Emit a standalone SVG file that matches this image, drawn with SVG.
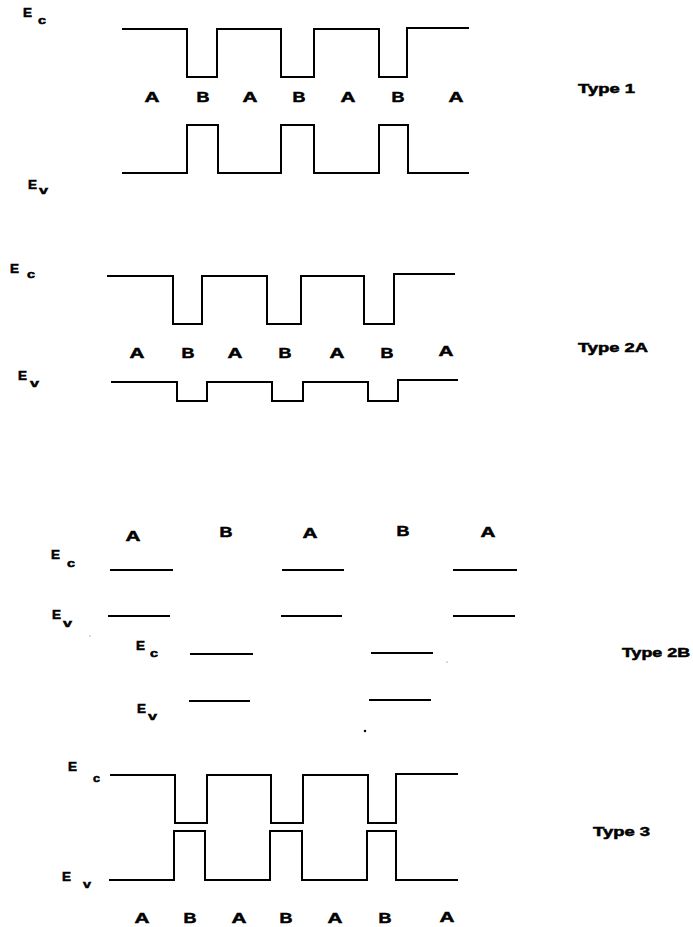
<svg xmlns="http://www.w3.org/2000/svg" width="693" height="927" viewBox="0 0 693 927">
<style>
.band{fill:none;stroke:#000;stroke-width:2;stroke-linejoin:miter;stroke-linecap:square}
.lvl{fill:none;stroke:#000;stroke-width:2}
text{font-family:"Liberation Sans",Arial,sans-serif;font-weight:bold;fill:#000;stroke:#000;stroke-width:0.5}
.ab{font-size:14px;text-anchor:middle}
.e{font-size:12px}
.s{font-size:11px}
.ty{font-size:12.5px}
</style>
<rect width="693" height="927" fill="#fff"/>

<g id="type1">
  <g id="type1-bands">
    <path class="band" d="M123,29 H187 V77 H217 V29 H281 V77 H314 V29 H379 V77 H407 V28 H468"/>
    <path class="band" d="M123,173 H187 V125 H218 V173 H281 V125 H314 V173 H379 V125 H408 V173 H468"/>
  </g>
  <text class="e" x="23" y="17" textLength="9" lengthAdjust="spacingAndGlyphs">E</text>
  <text class="s" x="38" y="24" textLength="8" lengthAdjust="spacingAndGlyphs">c</text>
  <text class="e" x="28" y="189" textLength="9" lengthAdjust="spacingAndGlyphs">E</text>
  <text class="s" x="39" y="194" textLength="9" lengthAdjust="spacingAndGlyphs">v</text>
  <g class="labels">
    <text class="ab" x="152" y="102" textLength="15" lengthAdjust="spacingAndGlyphs">A</text>
    <text class="ab" x="203" y="102" textLength="13" lengthAdjust="spacingAndGlyphs">B</text>
    <text class="ab" x="250" y="102" textLength="15" lengthAdjust="spacingAndGlyphs">A</text>
    <text class="ab" x="299" y="102" textLength="13" lengthAdjust="spacingAndGlyphs">B</text>
    <text class="ab" x="348" y="102" textLength="15" lengthAdjust="spacingAndGlyphs">A</text>
    <text class="ab" x="398" y="102" textLength="13" lengthAdjust="spacingAndGlyphs">B</text>
    <text class="ab" x="456" y="102" textLength="15" lengthAdjust="spacingAndGlyphs">A</text>
  </g>
  <text class="ty" x="578" y="93" textLength="57" lengthAdjust="spacingAndGlyphs">Type 1</text>
</g>

<g id="type2a">
  <g id="type2a-bands">
    <path class="band" d="M108,276 H173 V324 H202 V276 H267 V324 H301 V276 H364 V324 H394 V274 H454"/>
    <path class="band" d="M112,382 H177 V401 H207 V382 H272 V401 H303 V382 H368 V401 H398 V380 H457"/>
  </g>
  <text class="e" x="10" y="273" textLength="9" lengthAdjust="spacingAndGlyphs">E</text>
  <text class="s" x="27" y="278" textLength="8" lengthAdjust="spacingAndGlyphs">c</text>
  <text class="e" x="18" y="380" textLength="9" lengthAdjust="spacingAndGlyphs">E</text>
  <text class="s" x="30" y="387" textLength="9" lengthAdjust="spacingAndGlyphs">v</text>
  <g class="labels">
    <text class="ab" x="137" y="358" textLength="15" lengthAdjust="spacingAndGlyphs">A</text>
    <text class="ab" x="188" y="358" textLength="13" lengthAdjust="spacingAndGlyphs">B</text>
    <text class="ab" x="235" y="358" textLength="15" lengthAdjust="spacingAndGlyphs">A</text>
    <text class="ab" x="285" y="358" textLength="13" lengthAdjust="spacingAndGlyphs">B</text>
    <text class="ab" x="337" y="358" textLength="15" lengthAdjust="spacingAndGlyphs">A</text>
    <text class="ab" x="387" y="358" textLength="13" lengthAdjust="spacingAndGlyphs">B</text>
    <text class="ab" x="446" y="356" textLength="15" lengthAdjust="spacingAndGlyphs">A</text>
  </g>
  <text class="ty" x="578" y="352" textLength="70" lengthAdjust="spacingAndGlyphs">Type 2A</text>
</g>

<g id="type2b">
  <g class="labels">
    <text class="ab" x="133" y="541" textLength="15" lengthAdjust="spacingAndGlyphs">A</text>
    <text class="ab" x="226" y="537" textLength="13" lengthAdjust="spacingAndGlyphs">B</text>
    <text class="ab" x="310" y="538" textLength="15" lengthAdjust="spacingAndGlyphs">A</text>
    <text class="ab" x="403" y="536" textLength="13" lengthAdjust="spacingAndGlyphs">B</text>
    <text class="ab" x="488" y="537" textLength="15" lengthAdjust="spacingAndGlyphs">A</text>
  </g>
  <g id="type2b-levels">
    <line class="lvl" x1="110" y1="570" x2="173" y2="570"/>
    <line class="lvl" x1="108" y1="616" x2="170" y2="616"/>
    <line class="lvl" x1="282" y1="570" x2="344" y2="570"/>
    <line class="lvl" x1="281" y1="616" x2="342" y2="616"/>
    <line class="lvl" x1="453" y1="570" x2="517" y2="570"/>
    <line class="lvl" x1="453" y1="616" x2="515" y2="616"/>
    <line class="lvl" x1="190" y1="654" x2="253" y2="654"/>
    <line class="lvl" x1="189" y1="701" x2="250" y2="701"/>
    <line class="lvl" x1="371" y1="653" x2="433" y2="653"/>
    <line class="lvl" x1="369" y1="700" x2="431" y2="700"/>
  </g>
  <text class="e" x="51" y="559" textLength="9" lengthAdjust="spacingAndGlyphs">E</text>
  <text class="s" x="67" y="567" textLength="8" lengthAdjust="spacingAndGlyphs">c</text>
  <text class="e" x="52" y="619" textLength="9" lengthAdjust="spacingAndGlyphs">E</text>
  <text class="s" x="63" y="627" textLength="9" lengthAdjust="spacingAndGlyphs">v</text>
  <text class="e" x="136" y="650" textLength="9" lengthAdjust="spacingAndGlyphs">E</text>
  <text class="s" x="150" y="657" textLength="8" lengthAdjust="spacingAndGlyphs">c</text>
  <text class="e" x="137" y="713" textLength="9" lengthAdjust="spacingAndGlyphs">E</text>
  <text class="s" x="148" y="720" textLength="9" lengthAdjust="spacingAndGlyphs">v</text>
  <circle cx="365" cy="731" r="1.2" fill="#000"/>
  <circle cx="90" cy="636" r="0.6" fill="#555"/>
  <circle cx="447" cy="662" r="0.6" fill="#555"/>
  <text class="ty" x="622" y="657" textLength="68" lengthAdjust="spacingAndGlyphs">Type 2B</text>
</g>

<g id="type3">
  <g id="type3-bands">
    <path class="band" d="M111,775 H175 V823 H207 V775 H271 V823 H303 V775 H368 V823 H396 V774 H457"/>
    <path class="band" d="M110,880 H174 V831 H205 V880 H270 V831 H302 V880 H367 V831 H396 V880 H457"/>
  </g>
  <text class="e" x="68" y="771" textLength="9" lengthAdjust="spacingAndGlyphs">E</text>
  <text class="s" x="93" y="782" textLength="7" lengthAdjust="spacingAndGlyphs">c</text>
  <text class="e" x="62" y="881" textLength="9" lengthAdjust="spacingAndGlyphs">E</text>
  <text class="s" x="83" y="888" textLength="8" lengthAdjust="spacingAndGlyphs">v</text>
  <g class="labels">
    <text class="ab" x="142" y="923" textLength="15" lengthAdjust="spacingAndGlyphs">A</text>
    <text class="ab" x="190" y="923" textLength="13" lengthAdjust="spacingAndGlyphs">B</text>
    <text class="ab" x="239" y="923" textLength="15" lengthAdjust="spacingAndGlyphs">A</text>
    <text class="ab" x="286" y="923" textLength="13" lengthAdjust="spacingAndGlyphs">B</text>
    <text class="ab" x="335" y="923" textLength="15" lengthAdjust="spacingAndGlyphs">A</text>
    <text class="ab" x="385" y="923" textLength="13" lengthAdjust="spacingAndGlyphs">B</text>
    <text class="ab" x="447" y="922" textLength="15" lengthAdjust="spacingAndGlyphs">A</text>
  </g>
  <text class="ty" x="593" y="836" textLength="57" lengthAdjust="spacingAndGlyphs">Type 3</text>
</g>
</svg>
